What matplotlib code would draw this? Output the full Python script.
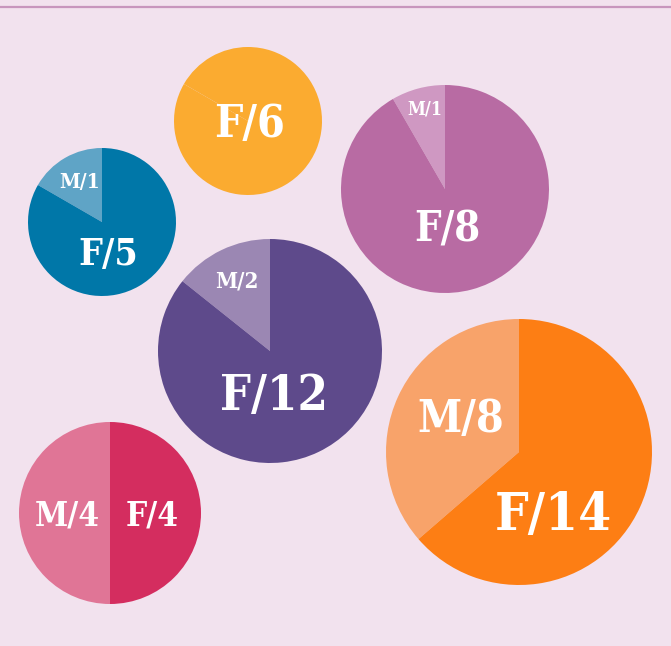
"""Pie bubbles: female / male counts per group."""

import matplotlib.pyplot as plt

W, H = 671, 646
BG = "#f2e2ee"

# data
female_counts = [6, 5, 8, 12, 14, 4]
male_counts = [None, 1, 1, 2, 8, 4]
# share of each circle taken by the male wedge
male_share = [1 / 6, 1 / 6, 1 / 12, 2 / 14, 8 / 22, 4 / 8]

female_colors = ["#fbab30", "#0077a8", "#b86ba3", "#5e4a8b", "#fd7e14", "#d42d5f"]
male_colors = ["#fbab30", "#5fa4c6", "#cf98c2", "#9b87b3", "#f8a36a", "#e07596"]

# layout (pixels, y measured from top)
centers = [(248, 121), (102, 222), (445, 189), (270, 351), (519, 452), (110, 513)]
radii = [74, 74, 104, 112, 133, 91]
female_label_pos = [(250, 137), (108, 265), (447, 242), (274, 410), (553, 530), (152, 525)]
male_label_pos = [None, (80, 188), (425, 115), (237, 288), (461, 432), (67, 525)]
female_label_size = [32, 27, 30, 35, 38, 24]
male_label_size = [None, 15, 13, 16, 32, 24]

FONT = ["DejaVu Serif"]


def main() -> None:
    fig = plt.figure(figsize=(W / 100, H / 100), dpi=100, facecolor=BG)
    ax = fig.add_axes([0, 0, 1, 1])
    ax.set_facecolor(BG)

    for i, (cx, cy) in enumerate(centers):
        share = male_share[i]
        ax.pie(
            [share, 1 - share],
            colors=[male_colors[i], female_colors[i]],
            center=(cx, H - cy),
            radius=radii[i],
            startangle=90,
            counterclock=True,
            wedgeprops={"linewidth": 0},
        )

        fx, fy = female_label_pos[i]
        ax.text(fx, H - fy, f"F/{female_counts[i]}", ha="center", va="baseline",
                fontsize=female_label_size[i], fontweight="bold", color="white",
                family=FONT, fontstretch="condensed")
        if male_counts[i] is not None:
            mx, my = male_label_pos[i]
            ax.text(mx, H - my, f"M/{male_counts[i]}", ha="center", va="baseline",
                    fontsize=male_label_size[i], fontweight="bold", color="white",
                    family=FONT, fontstretch="condensed")

    ax.axhline(H - 7, color="#c896bd", linewidth=1.6)
    ax.set_xlim(0, W)
    ax.set_ylim(0, H)
    ax.set_aspect("equal")
    ax.axis("off")
    fig.savefig("out.png", dpi=100, facecolor=BG)


if __name__ == "__main__":
    main()
